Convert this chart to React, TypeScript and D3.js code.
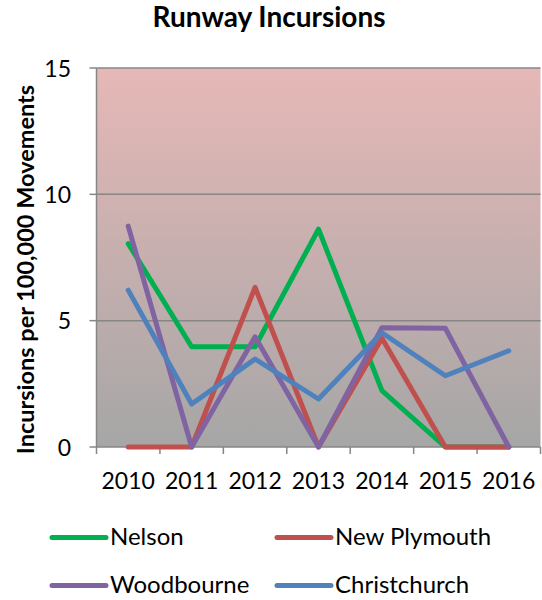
import React from "react";
import * as d3 from "d3";

const years = ["2010", "2011", "2012", "2013", "2014", "2015", "2016"];
const nelson = [8.05, 3.97, 3.97, 8.62, 2.23, 0, 0];
const newPlymouth = [0, 0, 6.32, 0, 4.3, 0, 0];
const woodbourne = [8.74, 0, 4.36, 0, 4.72, 4.7, 0];
const christchurch = [6.21, 1.7, 3.48, 1.9, 4.52, 2.82, 3.81];
const yTicks = [0, 5, 10, 15];

const seriesNames = ["Nelson", "New Plymouth", "Woodbourne", "Christchurch"];
const seriesColors = ["#00b050", "#c0504d", "#8064a2", "#4f81bd"];

const W = 542;
const H = 600;
const left = 96.5;
const right = 540.5;
const top = 68;
const bottom = 447;
const FONT = "Lato, 'Open Sans', sans-serif";

export default function App() {
  const x = d3.scaleBand<string>().domain(years).range([left, right]);
  const y = d3.scaleLinear().domain([0, 15]).range([bottom, top]);
  const line = d3
    .line<number>()
    .x((_, i) => (x(years[i]) as number) + x.bandwidth() / 2)
    .y((d) => y(d));
  const series = [nelson, newPlymouth, woodbourne, christchurch];
  const edges = [...years.map((yr) => x(yr) as number), right];

  return (
    <svg width={W} height={H} style={{ position: "absolute", left: 0, top: 0 }}>
      <defs>
        <linearGradient id="bg" x1="0" y1="0" x2="0" y2="1">
          <stop offset="0" stopColor="#e6b8b7" />
          <stop offset="1" stopColor="#a6a6a6" />
        </linearGradient>
      </defs>
      <rect x={0} y={0} width={W} height={H} fill="#fff" />
      <text x={269} y={27} textAnchor="middle" fontFamily={FONT} fontWeight="bold" fontSize={28} fill="#000">
        Runway Incursions
      </text>
      <rect x={left} y={top} width={right - left} height={bottom - top} fill="url(#bg)" />
      {yTicks.map((t) => (
        <g key={t}>
          {t > 0 && <line x1={left} x2={right} y1={y(t)} y2={y(t)} stroke="#868686" strokeWidth={1.5} />}
          <line x1={left - 7} x2={left} y1={y(t)} y2={y(t)} stroke="#868686" strokeWidth={1.5} />
          <text x={71} y={y(t) + 8.5} textAnchor="end" fontFamily={FONT} fontSize={23} fill="#000">
            {t}
          </text>
        </g>
      ))}
      <line x1={left} x2={left} y1={top} y2={bottom} stroke="#868686" strokeWidth={1.5} />
      <line x1={left} x2={right} y1={bottom} y2={bottom} stroke="#868686" strokeWidth={1.5} />
      {edges.map((e, i) => (
        <line key={i} x1={e} x2={e} y1={bottom} y2={bottom + 7} stroke="#868686" strokeWidth={1.5} />
      ))}
      {years.map((yr) => (
        <text
          key={yr}
          x={(x(yr) as number) + x.bandwidth() / 2}
          y={489}
          textAnchor="middle"
          fontFamily={FONT}
          fontSize={23}
          fill="#000"
        >
          {yr}
        </text>
      ))}
      <text
        transform={`translate(34, ${(top + bottom) / 2 + 12}) rotate(-90)`}
        textAnchor="middle"
        fontFamily={FONT}
        fontWeight="bold"
        fontSize={23.5}
        fill="#000"
      >
        Incursions per 100,000 Movements
      </text>
      {series.map((s, i) => (
        <path
          key={i}
          d={line(s) as string}
          fill="none"
          stroke={seriesColors[i]}
          strokeWidth={5}
          strokeLinejoin="round"
          strokeLinecap="round"
        />
      ))}
      {seriesNames.map((n, i) => {
        const lx = i % 2 === 0 ? 52 : 277;
        const ly = i < 2 ? 537.5 : 585.5;
        return (
          <g key={n}>
            <line x1={lx} x2={lx + 54} y1={ly} y2={ly} stroke={seriesColors[i]} strokeWidth={5} strokeLinecap="round" />
            <text x={lx + 58} y={ly + 7} fontFamily={FONT} fontSize={24} fill="#000">
              {n}
            </text>
          </g>
        );
      })}
    </svg>
  );
}
